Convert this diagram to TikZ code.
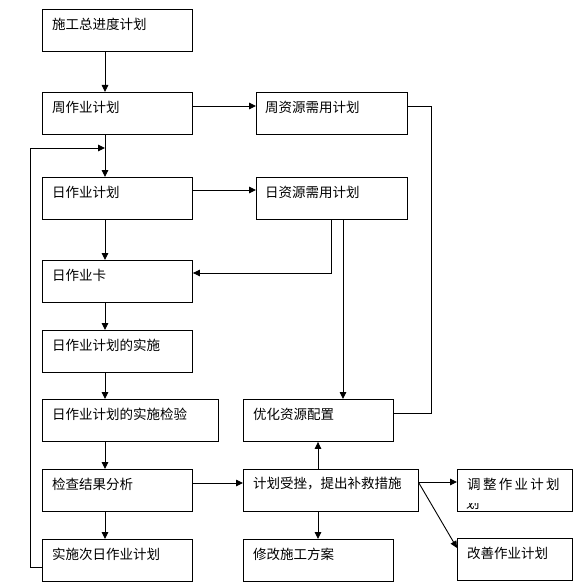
\documentclass[tikz,border=0pt]{standalone}
\usepackage{fontspec}
\newfontfamily\cjk{Noto Sans CJK SC}
\usetikzlibrary{arrows.meta}
\begin{document}
\begin{tikzpicture}[x=1pt,y=-1pt,
  bx/.style={draw, line width=0.9pt, rectangle, anchor=north west, minimum width=#1, minimum height=42pt, inner sep=0pt},
  txt/.style={anchor=west, inner sep=0pt, font=\cjk\fontsize{13.5}{15}\selectfont},
  conn/.style={line width=0.9pt, -{Triangle[length=7pt,width=6.5pt]}},
  plain/.style={line width=0.9pt}]
\useasboundingbox[fill=white] (0,0) rectangle (584,588);
% left column
\node[bx=150pt] (b1) at (42,9) {};
\node[bx=150pt] (b2) at (42,92) {};
\node[bx=150pt] (b3) at (42,177) {};
\node[bx=150pt] (b4) at (42,260) {};
\node[bx=150pt] (b5) at (42,330) {};
\node[bx=176pt] (b6) at (42,399) {};
\node[bx=150pt] (b7) at (42,469) {};
\node[bx=150pt] (b8) at (42,539) {};
% right columns
\node[bx=151pt] (r1) at (256,92) {};
\node[bx=151pt] (r2) at (256,177) {};
\node[bx=150pt] (r3) at (243,399) {};
\node[bx=175pt] (r4) at (243,469) {};
\node[bx=150pt] (r5) at (243,539) {};
\node[bx=115pt] (r6) at (457,469) {};
\node[bx=115pt] (r7) at (457,538) {};
% texts
\node[txt] (t1) at ([xshift=10pt,yshift=-15pt]b1.north west) {施工总进度计划};
\node[txt] (t2) at ([xshift=10pt,yshift=-15pt]b2.north west) {周作业计划};
\node[txt] (t3) at ([xshift=10pt,yshift=-15pt]b3.north west) {日作业计划};
\node[txt] (t4) at ([xshift=10pt,yshift=-15pt]b4.north west) {日作业卡};
\node[txt] (t5) at ([xshift=10pt,yshift=-15pt]b5.north west) {日作业计划的实施};
\node[txt] (t6) at ([xshift=10pt,yshift=-15pt]b6.north west) {日作业计划的实施检验};
\node[txt] (t7) at ([xshift=10pt,yshift=-15pt]b7.north west) {检查结果分析};
\node[txt] (t8) at ([xshift=10pt,yshift=-15pt]b8.north west) {实施次日作业计划};
\node[txt] (u1) at ([xshift=9pt,yshift=-15pt]r1.north west) {周资源需用计划};
\node[txt] (u2) at ([xshift=9pt,yshift=-15pt]r2.north west) {日资源需用计划};
\node[txt] (u3) at ([xshift=10pt,yshift=-15pt]r3.north west) {优化资源配置};
\node[txt] (u4) at ([xshift=10pt,yshift=-15pt]r4.north west) {计划受挫，提出补救措施};
\node[txt] (u5) at ([xshift=10pt,yshift=-15pt]r5.north west) {修改施工方案};
\node[txt] (u6) at ([xshift=10pt,yshift=-15pt]r6.north west) {调\hspace{2.3pt}整\hspace{2.3pt}作\hspace{2.3pt}业\hspace{2.3pt}计\hspace{2.3pt}划};
\node[txt] (u7) at ([xshift=10pt,yshift=-15pt]r7.north west) {改善作业计划};
\begin{scope}
\clip (462,503) rectangle (482,510);
\node[txt] (u6b) at (466,503) {划};
\end{scope}
% left column arrows
\draw[conn] ([xshift=63pt]b1.south west) -- ([xshift=63pt]b2.north west);
\draw[conn] ([xshift=63pt]b2.south west) -- ([xshift=63pt]b3.north west);
\draw[conn] ([xshift=63pt]b3.south west) -- ([xshift=63pt]b4.north west);
\draw[conn] ([xshift=63pt]b4.south west) -- ([xshift=63pt]b5.north west);
\draw[conn] ([xshift=63pt]b5.south west) -- ([xshift=63pt]b6.north west);
\draw[conn] ([xshift=63pt]b6.south west) -- ([xshift=63pt]b7.north west);
\draw[conn] ([xshift=63pt]b7.south west) -- ([xshift=63pt]b8.north west);
% feedback loop
\coordinate (fbc) at (30,148);
\coordinate (fb) at (105,148);
\draw[conn] ([yshift=-28pt]b8.north west) -| (fbc) -- (fb);
% horizontal arrows
\draw[conn] ([yshift=-14pt]b2.north east) -- ([yshift=-14pt]r1.north west);
\draw[conn] ([yshift=-13pt]b3.north east) -- ([yshift=-13pt]r2.north west);
\draw[conn] ([yshift=-14pt]b7.north east) -- ([yshift=-14pt]r4.north west);
% from daily resource plan
\draw[conn] ([xshift=75pt]r2.south west) |- ([yshift=-13pt]b4.north east);
\draw[conn] ([xshift=87pt]r2.south west) -- ([xshift=100pt]r3.north west);
% from weekly resource plan
\draw[plain] ([yshift=-14pt]r1.north east) -- ++(24,0) |- ([yshift=-14pt]r3.north east);
% from setback box
\draw[conn] ([xshift=75pt]r4.north west) -- ([xshift=75pt]r3.south west);
\draw[conn] ([xshift=75pt]r4.south west) -- ([xshift=75pt]r5.north west);
\draw[conn] ([yshift=-13pt]r4.north east) -- ([yshift=-13pt]r6.north west);
\draw[conn] ([yshift=-14pt]r4.north east) -- ([yshift=-10pt]r7.north west);
\end{tikzpicture}
\end{document}
